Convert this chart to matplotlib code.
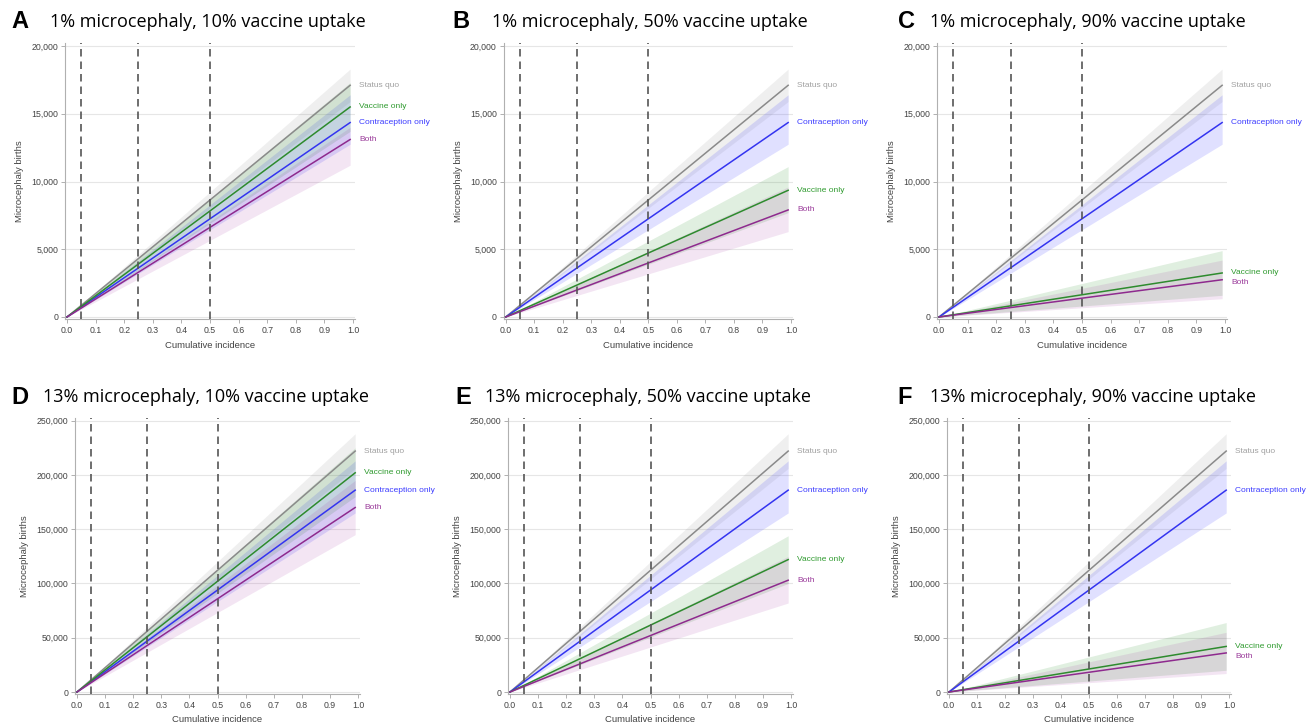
import matplotlib
matplotlib.use("Agg")
import matplotlib.pyplot as plt
from matplotlib.ticker import FuncFormatter

# ---------------- data ----------------
x_pts = [0.0, 0.99]
series = ["Status quo", "Vaccine only", "Contraception only", "Both"]
panel_letters = ["A", "B", "C", "D", "E", "F"]
panel_titles = [
    "1% microcephaly, 10% vaccine uptake",
    "1% microcephaly, 50% vaccine uptake",
    "1% microcephaly, 90% vaccine uptake",
    "13% microcephaly, 10% vaccine uptake",
    "13% microcephaly, 50% vaccine uptake",
    "13% microcephaly, 90% vaccine uptake",
]
# end values (at x=0.99) per panel: [status quo, vaccine, contraception, both]
mid_A = [17100, 15500, 14350, 13100]
low_A = [15900, 13700, 12750, 11200]
upp_A = [18300, 17300, 16400, 14000]
mid_B = [17100, 9350, 14350, 7900]
low_B = [15900, 7700, 12750, 6300]
upp_B = [18300, 11100, 16400, 9600]
mid_C = [17100, 3250, 14350, 2750]
low_C = [15900, 1600, 12750, 1350]
upp_C = [18300, 4900, 16400, 4200]
mid_D = [222000, 202000, 186000, 170000]
low_D = [206000, 180000, 165000, 145000]
upp_D = [238000, 225000, 213000, 195000]
mid_E = [222000, 122000, 186000, 103000]
low_E = [206000, 100000, 165000, 82000]
upp_E = [238000, 144000, 213000, 125000]
mid_F = [222000, 42000, 186000, 36000]
low_F = [206000, 20000, 165000, 17000]
upp_F = [238000, 64000, 213000, 55000]
y_ticks_top = [0, 5000, 10000, 15000, 20000]
y_ticks_bottom = [0, 50000, 100000, 150000, 200000, 250000]
x_ticks = [0.0, 0.1, 0.2, 0.3, 0.4, 0.5, 0.6, 0.7, 0.8, 0.9, 1.0]
ref_lines = [0.05, 0.25, 0.5]

mids = [mid_A, mid_B, mid_C, mid_D, mid_E, mid_F]
lows = [low_A, low_B, low_C, low_D, low_E, low_F]
upps = [upp_A, upp_B, upp_C, upp_D, upp_E, upp_F]

# ---------------- style ----------------
line_colors = ["#8a8a8a", "#2e8b2e", "#3434f0", "#8e2a8e"]
label_colors = ["#a0a0a0", "#2e9a2e", "#3b3bff", "#9a3a9a"]
band_colors = ["#808080", "#008000", "#4040ff", "#900090"]
band_alpha = [0.12, 0.12, 0.16, 0.10]
draw_order = [0, 2, 1, 3]

W, H = 1314, 727
fig = plt.figure(figsize=(W / 100, H / 100), dpi=100)

# pixel geometry of each panel: (x px of data 0, x px of data 1, y px of top tick, y px of 0)
geom = [
    (67, 353, 46, 317),
    (505.7, 791, 46, 317),
    (939, 1225, 46, 317),
    (77, 358, 420.7, 692),
    (510, 791, 420.7, 692),
    (949, 1229, 420.7, 692),
]
title_geom = [(11, 50, 22), (452, 492, 22), (898, 930, 22),
              (11, 43, 397), (455, 485, 397), (897, 930, 397)]

for i in range(6):
    x0, x1, yt, yb = geom[i]
    ticks = y_ticks_top if i < 3 else y_ticks_bottom
    ymax = ticks[-1]
    pxu = x1 - x0
    xlo, xhi = -2.0 / pxu, 1 + 2.0 / pxu
    pyu = (yb - yt) / ymax
    ylo, yhi = -2.0 / pyu, ymax + 3.0 / pyu
    left = x0 + xlo * pxu
    right = x0 + xhi * pxu
    top = yb - yhi * pyu
    bottom = yb - ylo * pyu
    ax = fig.add_axes([left / W, 1 - bottom / H, (right - left) / W, (bottom - top) / H])
    ax.set_xlim(xlo, xhi)
    ax.set_ylim(ylo, yhi)

    for t in ticks:
        ax.axhline(t, color="#e6e6e6", lw=0.8, zorder=0)

    for k in draw_order:
        ax.fill_between(x_pts, [0, lows[i][k]], [0, upps[i][k]],
                        color=band_colors[k], alpha=band_alpha[k], lw=0, zorder=1)
    for k in draw_order:
        ax.plot(x_pts, [0, mids[i][k]], color=line_colors[k], lw=1.1, zorder=3)

    for xv in ref_lines:
        ax.axvline(xv, color="#555555", lw=1.2, dashes=(4.5, 3), zorder=4)

    # labels at right, de-overlapped
    order = sorted(range(4), key=lambda k: -mids[i][k])
    gap = 0.037 * ymax
    prev = None
    for k in order:
        yv = mids[i][k]
        if prev is not None and prev - yv < gap:
            yv = prev - gap
        prev = yv
        ax.text(1.022, yv, series[k], color=label_colors[k], fontsize=6.0,
                va="center", ha="left", family="Liberation Sans", clip_on=False)

    ax.set_xticks(x_ticks)
    ax.set_yticks(ticks)
    ax.xaxis.set_major_formatter(FuncFormatter(lambda v, p: f"{v:.1f}"))
    ax.yaxis.set_major_formatter(FuncFormatter(lambda v, p: f"{int(round(v)):,}"))
    for sp in ["top", "right"]:
        ax.spines[sp].set_visible(False)
    for sp in ["left", "bottom"]:
        ax.spines[sp].set_color("#b0b0b0")
        ax.spines[sp].set_linewidth(0.8)
    ax.tick_params(axis="both", length=3, width=0.7, color="#b0b0b0",
                   labelsize=6.3, labelcolor="#444444", pad=2)
    for lab in ax.get_xticklabels() + ax.get_yticklabels():
        lab.set_family("Liberation Sans")
    ax.set_xlabel("Cumulative incidence", fontsize=6.8, color="#444444",
                  family="Liberation Sans", labelpad=4)
    ax.set_ylabel("Microcephaly births", fontsize=6.8, color="#444444",
                  family="Liberation Sans", labelpad=5)

    lx, tx, ty = title_geom[i]
    fig.text(lx / W, 1 - ty / H, panel_letters[i], fontsize=17, fontweight="bold",
             family="Liberation Sans", va="center", ha="left")
    fig.text(tx / W, 1 - ty / H, panel_titles[i], fontsize=13.0,
             family="Open Sans", va="center", ha="left")

fig.savefig("out.png", dpi=100)
